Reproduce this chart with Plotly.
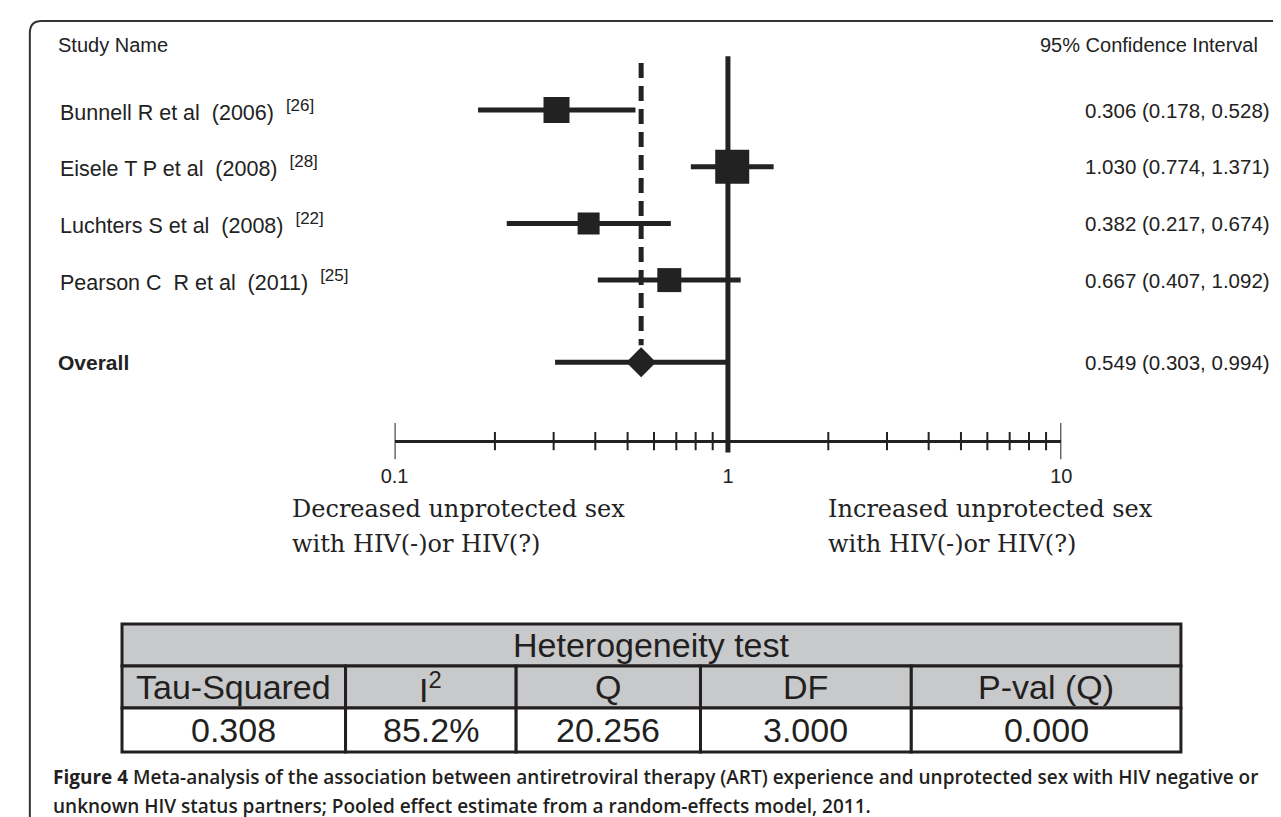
import plotly.graph_objects as go

W, H = 1281, 817

# ---------------- data ----------------
STUDIES = ["Bunnell R et al  (2006)", "Eisele T P et al  (2008)",
           "Luchters S et al  (2008)", "Pearson C  R et al  (2011)"]
REFS = ["[26]", "[28]", "[22]", "[25]"]
ESTIMATE = [0.306, 1.030, 0.382, 0.667]
LOWER = [0.178, 0.774, 0.217, 0.407]
UPPER = [0.528, 1.371, 0.674, 1.092]

OVERALL_LABEL = "Overall"
OVERALL_EST = 0.549
OVERALL_LOW = 0.303
OVERALL_HIGH = 0.994

AXIS_LABEL_VALUES = [0.1, 1, 10]
AXIS_LABEL_TEXT = ["0.1", "1", "10"]
MINOR_TICKS = [0.2, 0.3, 0.4, 0.5, 0.6, 0.7, 0.8, 0.9, 1,
               2, 3, 4, 5, 6, 7, 8, 9]
END_TICKS = [0.1, 10]

HET_TITLE = "Heterogeneity test"
HET_COLUMNS = ["Tau-Squared", "I<sup>2</sup>", "Q", "DF", "P-val (Q)"]
HET_VALUES = ["0.308", "85.2%", "20.256", "3.000", "0.000"]

LEFT_NOTE = ["Decreased unprotected sex", "with HIV(-)or HIV(?)"]
RIGHT_NOTE = ["Increased unprotected sex", "with HIV(-)or HIV(?)"]
CAPTION = ["<b>Figure 4</b> Meta-analysis of the association between antiretroviral therapy (ART) "
           "experience and unprotected sex with HIV negative or",
           "unknown HIV status partners; Pooled effect estimate from a random-effects model, 2011."]

# ---------------- style / layout ----------------
INK = "#222222"
SQUARE_SIZES = [26, 34, 22, 24]
SANS = "Liberation Sans, Arial, sans-serif"
SERIF = "DejaVu Serif, serif"
CAP_FONT = "Open Sans, Noto Sans, sans-serif"

ROW_PX0, ROW_GAP = 102.0, 56.7          # pixel of row 1, pixels per row
rows = [1, 2, 3, 4]
OVERALL_ROW = 5.45
HEADER_ROW = -0.15
AXIS_ROW = 6.84
TOP_LINE_ROW = 0.05


def px(x):
    return x / W


def py(y):
    return 1 - y / H


def row_px(r):
    return ROW_PX0 + ROW_GAP * (r - 1)


fig = go.Figure()

# dashed pooled-estimate line
fig.add_trace(go.Scatter(x=[OVERALL_EST, OVERALL_EST], y=[TOP_LINE_ROW + 0.12, OVERALL_ROW - 0.3],
                         mode="lines", line=dict(color=INK, width=5, dash="15px,8px"),
                         hoverinfo="skip", showlegend=False))
# solid null line
fig.add_trace(go.Scatter(x=[1, 1], y=[TOP_LINE_ROW, AXIS_ROW + 0.2],
                         mode="lines", line=dict(color=INK, width=5),
                         hoverinfo="skip", showlegend=False))

# confidence intervals
for r, lo, hi in zip(rows, LOWER, UPPER):
    fig.add_trace(go.Scatter(x=[lo, hi], y=[r, r], mode="lines",
                             line=dict(color=INK, width=5),
                             hoverinfo="skip", showlegend=False))
fig.add_trace(go.Scatter(x=[OVERALL_LOW, OVERALL_HIGH], y=[OVERALL_ROW, OVERALL_ROW], mode="lines",
                         line=dict(color=INK, width=5), hoverinfo="skip", showlegend=False))

# study squares
fig.add_trace(go.Scatter(x=ESTIMATE, y=rows, mode="markers",
                         marker=dict(symbol="square", size=SQUARE_SIZES, color=INK, opacity=1,
                                     line=dict(width=0)),
                         hoverinfo="skip", showlegend=False))
# pooled diamond
fig.add_trace(go.Scatter(x=[OVERALL_EST], y=[OVERALL_ROW], mode="markers",
                         marker=dict(symbol="diamond", size=23, color=INK, opacity=1,
                                     line=dict(width=0)),
                         hoverinfo="skip", showlegend=False))

# axis ticks (crossing the axis line)
fig.add_trace(go.Scatter(x=MINOR_TICKS, y=[AXIS_ROW] * len(MINOR_TICKS), mode="markers",
                         marker=dict(symbol="line-ns", size=13, opacity=1,
                                     line=dict(color=INK, width=2)),
                         hoverinfo="skip", showlegend=False))
fig.add_trace(go.Scatter(x=END_TICKS, y=[AXIS_ROW] * len(END_TICKS), mode="markers",
                         marker=dict(symbol="line-ns", size=26, opacity=1,
                                     line=dict(color=INK, width=2)),
                         hoverinfo="skip", showlegend=False))

annotations = []

# headers
annotations.append(dict(text="Study Name", x=px(35), xref="paper", xanchor="left",
                        y=HEADER_ROW, yref="y", yanchor="middle", showarrow=False,
                        font=dict(family=SANS, size=20, color=INK)))
annotations.append(dict(text="95% Confidence Interval", x=px(1263), xref="paper", xanchor="right",
                        y=HEADER_ROW, yref="y", yanchor="middle", showarrow=False,
                        font=dict(family=SANS, size=20, color=INK)))

# study labels and CI texts
for r, name, ref, est, lo, hi in zip(rows, STUDIES, REFS, ESTIMATE, LOWER, UPPER):
    label = f'{name}\u00a0\u00a0<sup><span style="font-size:17px">{ref}</span></sup>'
    annotations.append(dict(text=label, x=px(37), xref="paper", xanchor="left",
                            y=r, yref="y", yanchor="middle", showarrow=False,
                            font=dict(family=SANS, size=21.5, color=INK)))
    annotations.append(dict(text=f"{est:.3f} ({lo:.3f}, {hi:.3f})", x=px(1275), xref="paper",
                            xanchor="right", y=r, yref="y", yanchor="middle", showarrow=False,
                            font=dict(family=SANS, size=20.5, color=INK)))

annotations.append(dict(text=f"<b>{OVERALL_LABEL}</b>", x=px(35), xref="paper", xanchor="left",
                        y=OVERALL_ROW, yref="y", yanchor="middle", showarrow=False,
                        font=dict(family=SANS, size=21, color=INK)))
annotations.append(dict(text=f"{OVERALL_EST:.3f} ({OVERALL_LOW:.3f}, {OVERALL_HIGH:.3f})",
                        x=px(1275), xref="paper", xanchor="right", y=OVERALL_ROW, yref="y",
                        yanchor="middle", showarrow=False,
                        font=dict(family=SANS, size=20.5, color=INK)))

# direction notes
for i, (lt, rt) in enumerate(zip(LEFT_NOTE, RIGHT_NOTE)):
    ypix = 501 + 35 * i
    annotations.append(dict(text=lt, x=px(273), xref="paper", xanchor="left",
                            y=py(ypix), yref="paper", yanchor="middle", showarrow=False,
                            font=dict(family=SERIF, size=24, color=INK)))
    annotations.append(dict(text=rt, x=px(820), xref="paper", xanchor="left",
                            y=py(ypix), yref="paper", yanchor="middle", showarrow=False,
                            font=dict(family=SERIF, size=24, color=INK)))

# ---------------- table ----------------
shapes = []
COL_EDGES = [102, 330, 504, 692, 907, 1182]
T_TOP, T_MID1, T_MID2, T_BOT = 616, 658, 700, 744
GRAY = "#c8c9cb"
TBL_INK = "#231f20"
TBL_FONT = dict(family=SANS, size=34, color=TBL_INK)

shapes.append(dict(type="rect", xref="paper", yref="paper",
                   x0=px(COL_EDGES[0]), x1=px(COL_EDGES[-1]), y0=py(T_TOP), y1=py(T_MID1),
                   fillcolor=GRAY, line=dict(color=TBL_INK, width=3), layer="below"))
annotations.append(dict(text=HET_TITLE, x=px((COL_EDGES[0] + COL_EDGES[-1]) / 2), xref="paper",
                        xanchor="center", y=py((T_TOP + T_MID1) / 2), yref="paper",
                        yanchor="middle", showarrow=False, font=TBL_FONT))
for i, (col, val) in enumerate(zip(HET_COLUMNS, HET_VALUES)):
    x0, x1 = COL_EDGES[i], COL_EDGES[i + 1]
    shapes.append(dict(type="rect", xref="paper", yref="paper",
                       x0=px(x0), x1=px(x1), y0=py(T_MID1), y1=py(T_MID2),
                       fillcolor=GRAY, line=dict(color=TBL_INK, width=3), layer="below"))
    shapes.append(dict(type="rect", xref="paper", yref="paper",
                       x0=px(x0), x1=px(x1), y0=py(T_MID2), y1=py(T_BOT),
                       fillcolor="white", line=dict(color=TBL_INK, width=3), layer="below"))
    annotations.append(dict(text=col, x=px((x0 + x1) / 2), xref="paper", xanchor="center",
                            y=py((T_MID1 + T_MID2) / 2), yref="paper", yanchor="middle",
                            showarrow=False, font=TBL_FONT))
    annotations.append(dict(text=val, x=px((x0 + x1) / 2), xref="paper", xanchor="center",
                            y=py((T_MID2 + T_BOT) / 2), yref="paper", yanchor="middle",
                            showarrow=False, font=TBL_FONT))

# caption
for i, line in enumerate(CAPTION):
    annotations.append(dict(text=line, x=px(30), xref="paper", xanchor="left",
                            y=py(769 + 29 * i), yref="paper", yanchor="middle", showarrow=False,
                            font=dict(family=CAP_FONT, size=19, color=TBL_INK, weight=600)))

# outer frame with rounded top-left corner
frame = (f"M {px(8)},{py(817)} L {px(8)},{py(25)} "
         f"Q {px(8)},{py(13)} {px(20)},{py(13)} L {px(1281)},{py(13)}")
shapes.append(dict(type="path", xref="paper", yref="paper", path=frame,
                   line=dict(color="#333333", width=2)))

ymin_row = 1 - ROW_PX0 / ROW_GAP
ymax_row = 1 + (H - ROW_PX0) / ROW_GAP

fig.update_layout(
    width=W, height=H,
    margin=dict(l=0, r=0, t=0, b=0),
    paper_bgcolor="white", plot_bgcolor="white",
    showlegend=False,
    xaxis=dict(type="log", range=[-1, 1], domain=[px(380), px(1060)],
               anchor="free", position=py(row_px(AXIS_ROW)),
               showline=True, linecolor=INK, linewidth=3,
               showgrid=False, zeroline=False, ticks="",
               tickvals=AXIS_LABEL_VALUES, ticktext=AXIS_LABEL_TEXT,
               ticklabelstandoff=16,
               tickfont=dict(family=SANS, size=20, color=INK), fixedrange=True),
    yaxis=dict(range=[ymax_row, ymin_row], domain=[0, 1], visible=False, fixedrange=True),
    annotations=annotations,
    shapes=shapes,
)

fig.write_html("out.html")
